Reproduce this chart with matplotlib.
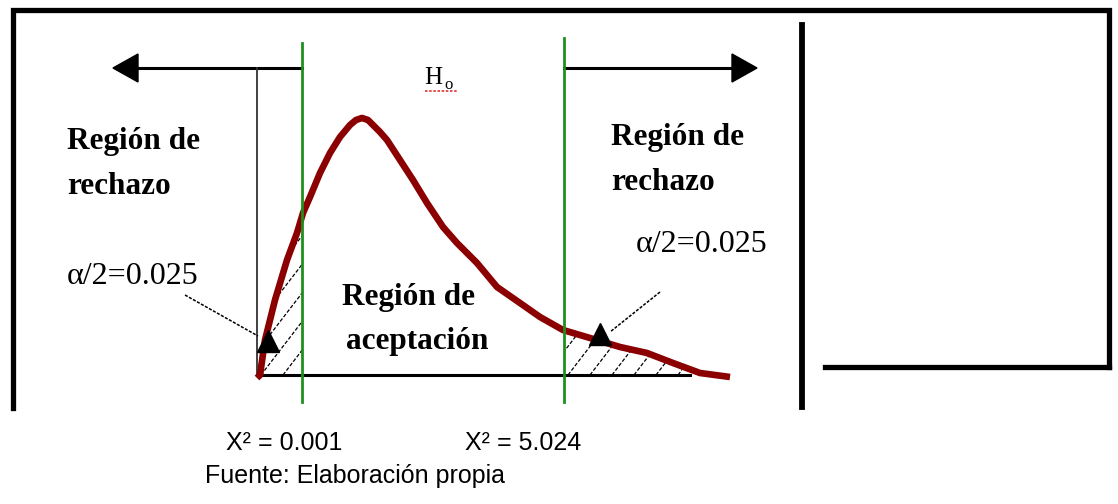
import numpy as np
import matplotlib.pyplot as plt
from matplotlib.patches import Polygon

# curva chi-cuadrado tal como esta dibujada (px de la figura, y hacia abajo)
curve_x = [257, 260, 265, 275, 287, 297, 303, 310, 320, 330, 340, 350, 356, 362, 368, 373, 380, 387,
           400, 413, 427, 443, 457, 477, 497, 520, 540, 563, 590, 620, 647, 673, 700, 730]
curve_y = [378, 375, 340, 300, 260, 233, 213, 197, 173, 153, 137, 125, 120, 118, 120, 125, 132, 140,
           160, 180, 203, 227, 243, 263, 287, 303, 317, 330, 338, 347, 353, 363, 373, 377]

base_y = 375
x_start, x_end = 257, 690
crit_x = [302, 564]              # valores criticos
crit_labels = ['X\u00b2 = 0.001', 'X\u00b2 = 5.024']
alpha_label = '\u03b1/2=0.025'
source = 'Fuente: Elaboraci\u00f3n propia'

fig = plt.figure(figsize=(11.18, 5.04), dpi=100)
ax = fig.add_axes([0, 0, 1, 1])
ax.set_xlim(0, 1118)
ax.set_ylim(504, 0)
ax.axis('off')

# marcos negros
ax.plot([13, 13, 1109, 1109], [408, 10, 10, 367], color='black', lw=3.8, solid_joinstyle='miter')
ax.plot([825, 1109], [367, 367], color='black', lw=3.8)
ax.plot([802, 802], [25, 407], color='black', lw=4.2)

# flechas de las regiones de rechazo
ax.plot([138, crit_x[0]], [68, 68], color='black', lw=2.2)
ax.add_patch(Polygon([[113, 68], [138, 54], [138, 82]], closed=True, color='black'))
ax.plot([crit_x[1], 735], [68, 68], color='black', lw=2.2)
ax.add_patch(Polygon([[757, 68], [732, 54], [732, 82]], closed=True, color='black'))
ax.plot([x_start, x_start], [68, base_y], color='#333333', lw=1.3)

# eje base
ax.plot([x_start, x_end], [base_y, base_y], color='black', lw=2.2)

# areas sombreadas (rayas discontinuas recortadas a la region)
cx = np.array(curve_x)
cy = np.array(curve_y)
for lo, hi in [(x_start, crit_x[0]), (crit_x[1], 682)]:
    m = (cx > lo) & (cx < hi)
    ex = np.concatenate([[lo], cx[m], [hi]])
    ey = np.interp(ex, cx, cy)
    verts = [[lo, base_y]] + [[a, b] for a, b in zip(ex, ey)] + [[hi, base_y]]
    poly = Polygon(verts, closed=True, facecolor='none', edgecolor='none')
    ax.add_patch(poly)
    for x0 in np.arange(lo - 200 + 6, hi + 10, 22):
        ln, = ax.plot([x0, x0 + 200], [base_y, base_y - 200 * 1.3], color='black', lw=0.9,
                      ls=(0, (3, 1.5)))
        ln.set_clip_path(poly)

# curva
ax.plot(curve_x, curve_y, color='#8b0000', lw=4.8, solid_joinstyle='round',
        solid_capstyle='butt', zorder=4)

# lineas verdes de los valores criticos
ax.plot([crit_x[0], crit_x[0]], [43, 402], color='#1f8f1f', lw=2, zorder=5)
ax.plot([crit_x[1], crit_x[1]], [38, 402], color='#1f8f1f', lw=2, zorder=5)

# triangulos y lineas indicadoras
ax.plot([268, 600], [341, 334], ls='none', marker='^', ms=16, color='black', zorder=6)
ax.plot([185, 258], [295, 336], color='black', lw=1.1, ls=(0, (2, 1)))
ax.plot([660, 610], [292, 332], color='black', lw=1.1, ls=(0, (2, 1)))

serif_b = dict(family='Liberation Serif', weight='bold', fontsize=22.5, color='black')
ax.text(67, 142, 'Regi\u00f3n de', va='center', ha='left', **serif_b)
ax.text(67, 186, 'rechazo', va='center', ha='left', **serif_b)
ax.text(611, 138, 'Regi\u00f3n de', va='center', ha='left', **serif_b)
ax.text(611, 182, 'rechazo', va='center', ha='left', **serif_b)
ax.text(408, 297, 'Regi\u00f3n de', va='center', ha='center', **serif_b)
ax.text(417, 341, 'aceptaci\u00f3n', va='center', ha='center', **serif_b)

serif_r = dict(family='Liberation Serif', fontsize=23, color='black')
ax.text(67, 277, alpha_label, va='center', ha='left', **serif_r)
ax.text(636, 244, alpha_label, va='center', ha='left', **serif_r)

# H0 con subrayado rojo de corrector
ax.text(424, 84, 'H', va='baseline', ha='left', family='Liberation Serif', fontsize=18)
ax.text(444, 89, 'o', va='baseline', ha='left', family='Liberation Serif', fontsize=12)
ax.plot([425, 458], [91, 91], color='#e03030', lw=1.2, ls=(0, (1.5, 1)))

sans = dict(family='Liberation Sans', fontsize=18, color='black')
ax.text(284, 450, crit_labels[0], va='baseline', ha='center', **sans)
ax.text(523, 450, crit_labels[1], va='baseline', ha='center', **sans)
ax.text(205, 483, source, va='baseline', ha='left', **sans)

fig.savefig('out.png', dpi=100, facecolor='white')
